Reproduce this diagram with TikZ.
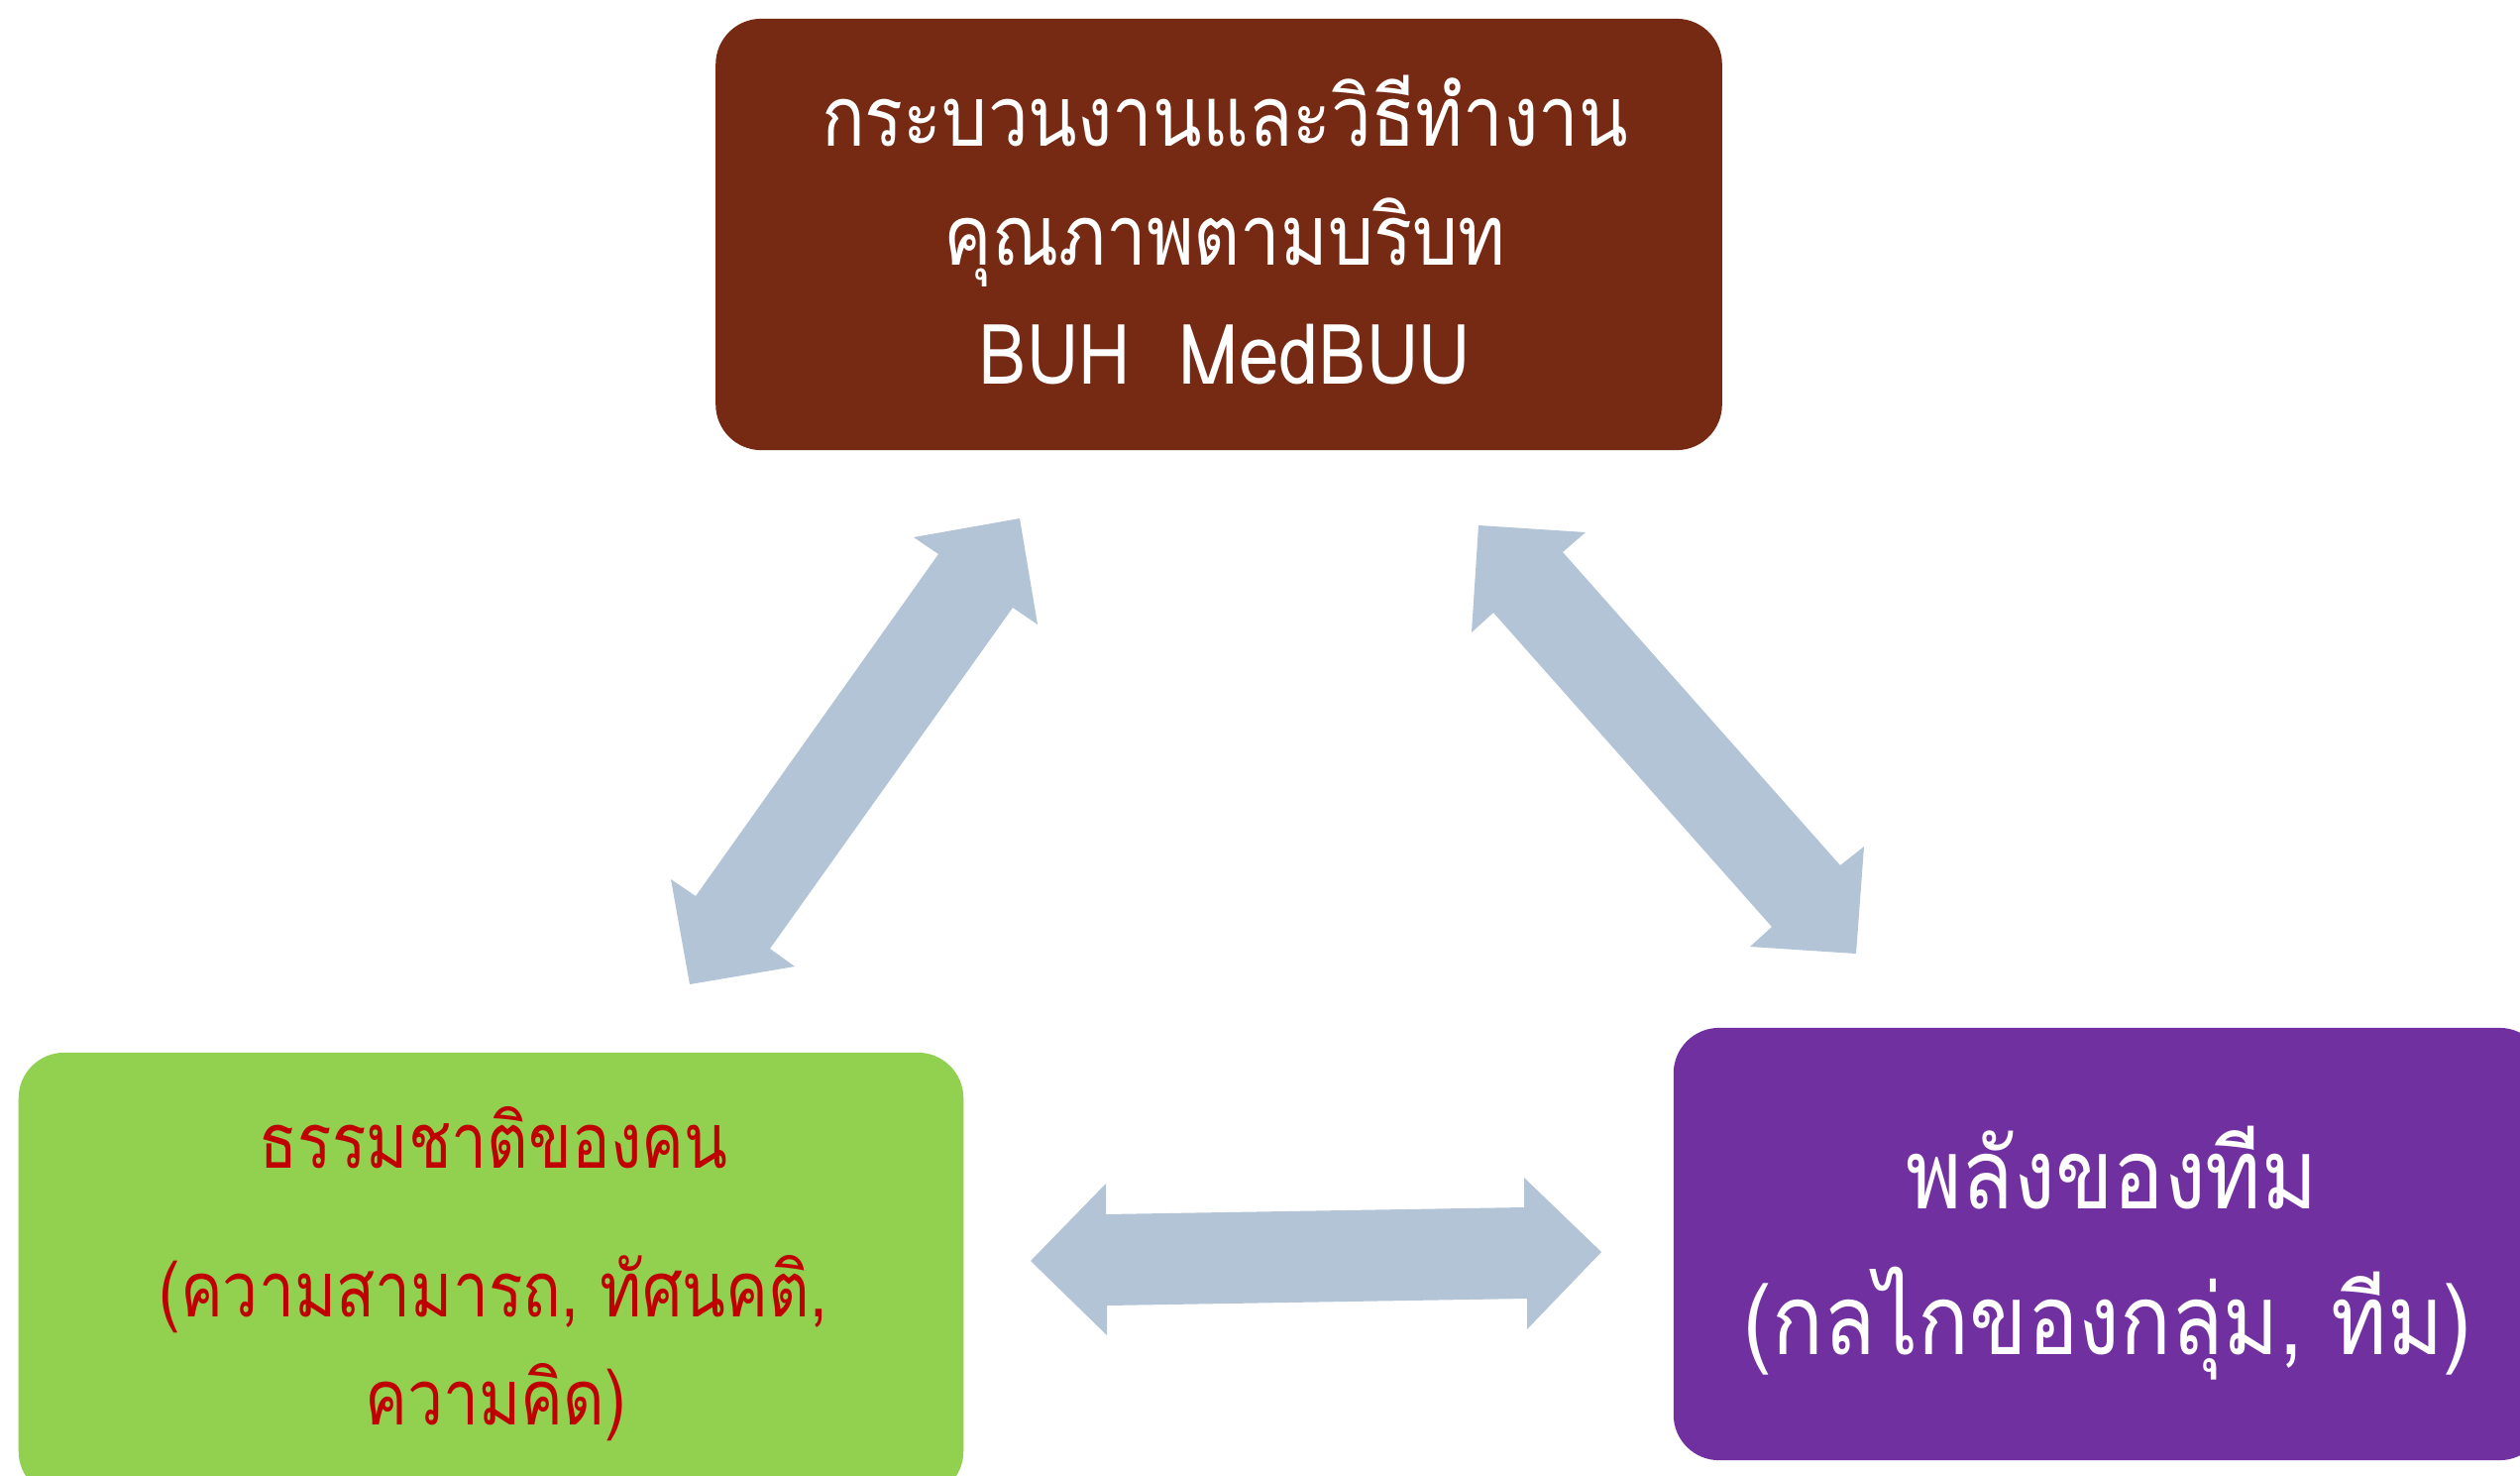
\documentclass[tikz,border=0pt]{standalone}
\usepackage{fontspec}
\newfontfamily\thaitop[Script=Thai,FakeStretch=0.86]{Loma}
\newfontfamily\thaigreen[Script=Thai,FakeStretch=0.83]{Loma}
\newfontfamily\thaipurple[Script=Thai,FakeStretch=0.87]{Loma}
\definecolor{brownbox}{RGB}{118,41,19}
\definecolor{greenbox}{RGB}{146,208,80}
\definecolor{purplebox}{RGB}{112,48,160}
\definecolor{arrowblue}{RGB}{178,196,214}
\definecolor{redtext}{RGB}{192,0,0}
\tikzset{
  box/.style={rectangle, rounded corners=0.46cm, inner sep=0pt},
  blockarrow/.style={fill=arrowblue, draw=none},
  toptext/.style={font=\thaitop\fontsize{24}{28}\selectfont, text=white, anchor=base, inner sep=0pt},
  greentext/.style={font=\thaigreen\fontsize{22}{26}\selectfont, text=redtext, anchor=base, inner sep=0pt},
  purpletext/.style={font=\thaipurple\fontsize{28}{32}\selectfont, text=white, anchor=base, inner sep=0pt},
}
\begin{document}
\begin{tikzpicture}[x=0.01cm,y=-0.01cm]
\useasboundingbox (0,0) rectangle (2543,1488);
\clip (0,0) rectangle (2543,1488);
\fill[white] (0,0) rectangle (2543,1488);
% boxes
\node[box, fill=brownbox, minimum width=10.15cm, minimum height=4.35cm] (topbox) at (1230,236.5) {};
\node[box, fill=greenbox, minimum width=9.53cm, minimum height=4.48cm] (greenbox) at (495.5,1286) {};
\node[box, fill=purplebox, minimum width=8.79cm, minimum height=4.36cm] (purplebox) at (2128.5,1255) {};
% texts
\node[toptext] (t1) at (1236,147) {กระบวนงานและวิธีทำงาน};
\node[toptext] (t2) at (1236,267) {คุณภาพตามบริบท};
\node[toptext] (t3) at (1236,387) {BUH\ \ MedBUU};
\node[greentext] (g1) at (498,1178) {ธรรมชาติของคน};
\node[greentext] (g2) at (498,1328) {(ความสามารถ, ทัศนคติ,};
\node[greentext] (g3) at (500,1437) {ความคิด)};
\node[purpletext] (p1) at (2131,1219) {พลังของทีม};
\node[purpletext] (p2) at (2127,1366) {(กลไกของกลุ่ม, ทีม)};
% block arrows
\fill[blockarrow] (1029,523) -- (1047,630) -- (1022,613) -- (777,957) -- (802,975) -- (696,993) -- (677,887) -- (702,904) -- (947,559) -- (922,542) -- cycle;
\fill[blockarrow] (1492,530) -- (1600,537) -- (1577,557) -- (1857,873) -- (1881,854) -- (1873,962) -- (1766,955) -- (1788,935) -- (1507,618) -- (1485,638) -- cycle;
\fill[blockarrow] (1040,1272) -- (1116,1194) -- (1116,1225) -- (1538,1218) -- (1538,1188) -- (1616,1263) -- (1541,1341) -- (1541,1310) -- (1117,1317) -- (1117,1347) -- cycle;
\end{tikzpicture}
\end{document}
